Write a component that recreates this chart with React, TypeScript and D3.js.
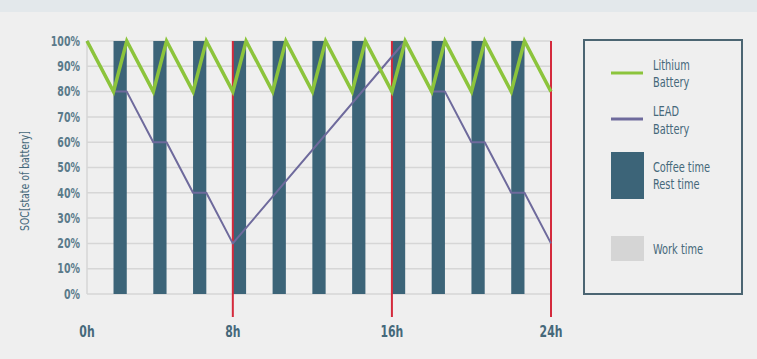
import React from "react";
import * as d3 from "d3";

const yTicks = [0, 10, 20, 30, 40, 50, 60, 70, 80, 90, 100];
const xTickLabels = ["0h", "8h", "16h", "24h"];
const xTickPos = [0, 11, 23, 35];
const shiftLines = [11, 23, 35];
const breakStarts = [2, 5, 8, 11, 14, 17, 20, 23, 26, 29, 32];
const breakWidth = 1;
const lithiumX = [0, 2, 3, 5, 6, 8, 9, 11, 12, 14, 15, 17, 18, 20, 21, 23, 24, 26, 27, 29, 30, 32, 33, 35];
const lithiumY = [100, 80, 100, 80, 100, 80, 100, 80, 100, 80, 100, 80, 100, 80, 100, 80, 100, 80, 100, 80, 100, 80, 100, 80];
const leadX = [0, 2, 3, 5, 6, 8, 9, 11, 24, 26, 27, 29, 30, 32, 33, 35];
const leadY = [100, 80, 80, 60, 60, 40, 40, 20, 100, 80, 80, 60, 60, 40, 40, 20];

const FONT = "'DejaVu Sans Condensed', 'DejaVu Sans', sans-serif";
const GREEN = "#8cc43c";
const PURPLE = "#6e6a9c";
const BAR = "#3c6478";
const RED = "#d42a3c";
const TEXT = "#45687a";
const TICK = "#5a7a8a";

type CTProps = {
  x: number; y: number; sx?: number; rotate?: number; anchor?: "start" | "middle" | "end";
  size: number; weight?: string; fill: string; children: React.ReactNode;
};
function CText({ x, y, sx = 0.78, rotate = 0, anchor = "start", size, weight = "normal", fill, children }: CTProps) {
  return (
    <g transform={`translate(${x},${y}) rotate(${rotate}) scale(${sx},1)`}>
      <text x={0} y={0} dy="0.35em" textAnchor={anchor} fontSize={size} fontWeight={weight} fill={fill}>
        {children}
      </text>
    </g>
  );
}

export default function App() {
  const W = 757, H = 359;
  const x = d3.scaleLinear().domain([0, 35]).range([87, 551]);
  const y = d3.scaleLinear().domain([0, 100]).range([294, 41]);
  const line = d3.line<[number, number]>().x(d => x(d[0])).y(d => y(d[1]));
  const liPts = lithiumX.map((v, i) => [v, lithiumY[i]] as [number, number]);
  const leadPts = leadX.map((v, i) => [v, leadY[i]] as [number, number]);

  return (
    <svg width={W} height={H} style={{ position: "absolute", left: 0, top: 0, fontFamily: FONT }}>
      <rect x={0} y={0} width={W} height={H} fill="#efefef" />
      <rect x={0} y={0} width={W} height={12} fill="#e3e8eb" />
      {yTicks.map(t => (
        <line key={"g" + t} x1={x(0)} x2={x(35)} y1={y(t)} y2={y(t)} stroke="#d6d6d6" strokeWidth={1.5} />
      ))}
      <line x1={x(0)} x2={x(0)} y1={y(100)} y2={y(0)} stroke="#d6d6d6" strokeWidth={1.5} />
      {breakStarts.map(b => (
        <rect key={"b" + b} x={x(b)} width={x(b + breakWidth) - x(b)} y={y(100)} height={y(0) - y(100)} fill={BAR} />
      ))}
      {shiftLines.map(s => (
        <line key={"r" + s} x1={x(s)} x2={x(s)} y1={y(100)} y2={317} stroke={RED} strokeWidth={2} />
      ))}
      <path d={line(leadPts) || ""} fill="none" stroke={PURPLE} strokeWidth={2} strokeLinejoin="round" />
      <path d={line(liPts) || ""} fill="none" stroke={GREEN} strokeWidth={3.5} strokeLinejoin="miter" />
      {yTicks.map(t => (
        <CText key={"yt" + t} x={80} y={y(t)} anchor="end" size={13.5} weight="bold" fill={TICK}>
          {t}%
        </CText>
      ))}
      <CText x={24} y={181} rotate={-90} anchor="middle" size={13} sx={0.8} fill={TEXT}>
        SOC[state of battery]
      </CText>
      {xTickPos.map((p, i) => (
        <CText key={"xt" + i} x={x(p)} y={332} anchor="middle" size={15.5} weight="bold" fill={TEXT}>
          {xTickLabels[i]}
        </CText>
      ))}
      <rect x={584} y={40} width={158} height={254} fill="none" stroke="#4b6572" strokeWidth={2} />
      <line x1={611} x2={643} y1={73} y2={73} stroke={GREEN} strokeWidth={3} />
      <CText x={653} y={65} size={14} fill={TEXT}>Lithium</CText>
      <CText x={653} y={82} size={14} fill={TEXT}>Battery</CText>
      <line x1={611} x2={643} y1={119} y2={119} stroke={PURPLE} strokeWidth={3} />
      <CText x={653} y={111} size={14} fill={TEXT}>LEAD</CText>
      <CText x={653} y={129} size={14} fill={TEXT}>Battery</CText>
      <rect x={611} y={152} width={33} height={47} fill={BAR} />
      <CText x={653} y={167} size={14} fill={TEXT}>Coffee time</CText>
      <CText x={653} y={184} size={14} fill={TEXT}>Rest time</CText>
      <rect x={611} y={236} width={33} height={25} fill="#d5d5d5" />
      <CText x={653} y={249} size={14} fill={TEXT}>Work time</CText>
    </svg>
  );
}
